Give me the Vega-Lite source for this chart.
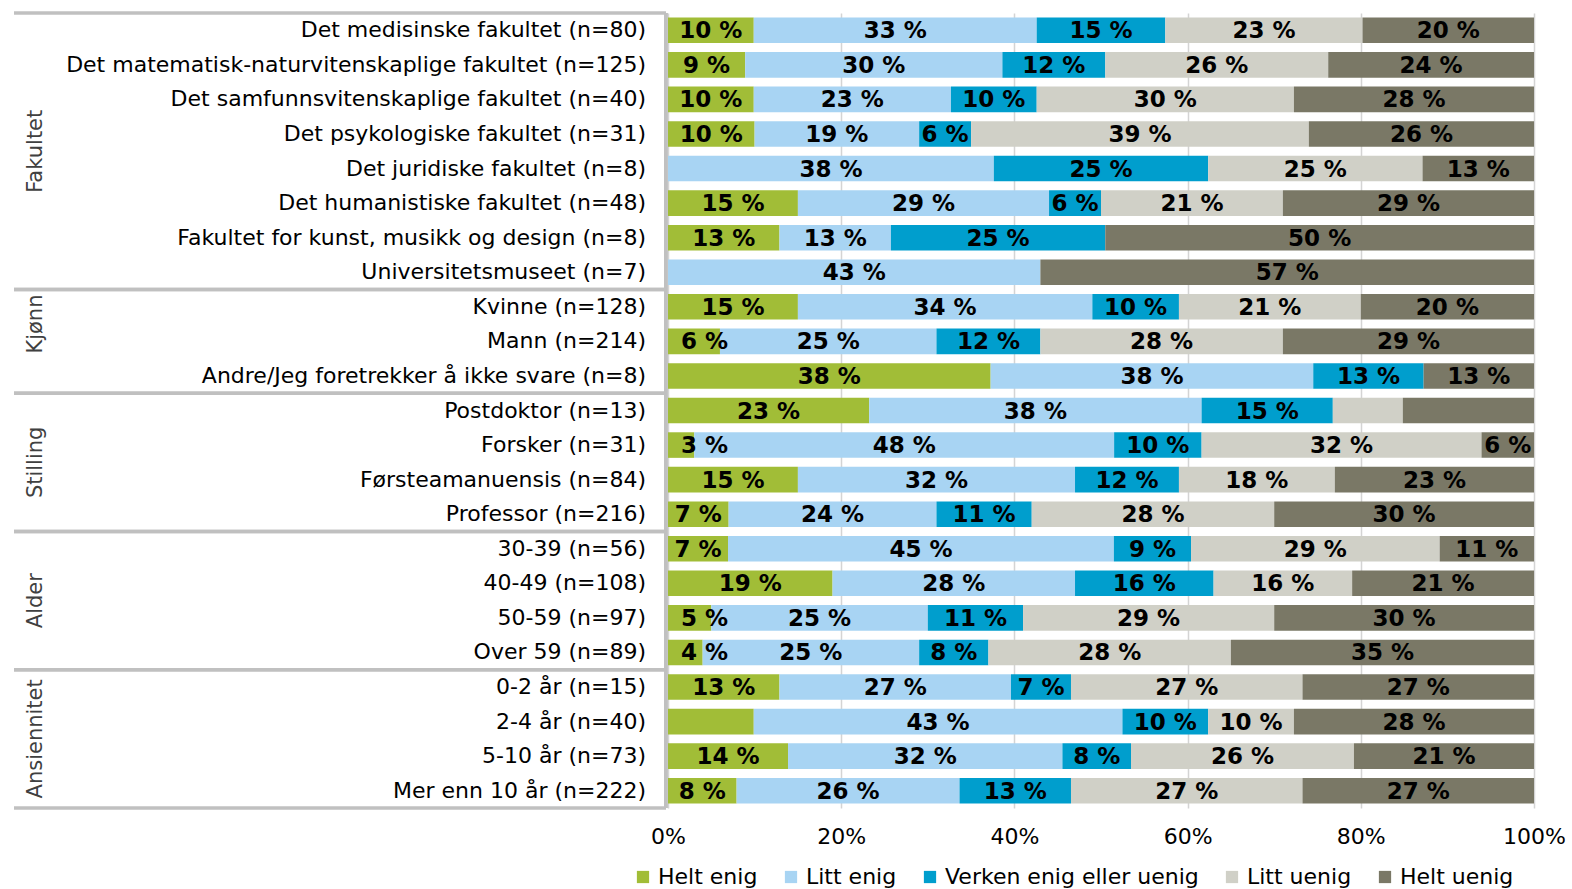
{
  "$schema": "https://vega.github.io/schema/vega-lite/v6.json",
  "background": "white",
  "padding": {"left": 12, "top": 11, "right": 5, "bottom": 5},
  "spacing": 2,
  "bounds": "flush",
  "config": {
    "view": {"stroke": null},
    "font": "DejaVu Sans",
    "text": {"font": "DejaVu Sans"}
  },
  "datasets": {
    "rows": [
      {"r": "Det medisinske fakultet (n=80)", "g": "Fakultet"},
      {"r": "Det matematisk-naturvitenskaplige fakultet (n=125)", "g": "Fakultet"},
      {"r": "Det samfunnsvitenskaplige fakultet (n=40)", "g": "Fakultet"},
      {"r": "Det psykologiske fakultet (n=31)", "g": "Fakultet"},
      {"r": "Det juridiske fakultet (n=8)", "g": "Fakultet"},
      {"r": "Det humanistiske fakultet (n=48)", "g": "Fakultet"},
      {"r": "Fakultet for kunst, musikk og design (n=8)", "g": "Fakultet"},
      {"r": "Universitetsmuseet (n=7)", "g": "Fakultet"},
      {"r": "Kvinne (n=128)", "g": "Kjønn"},
      {"r": "Mann (n=214)", "g": "Kjønn"},
      {"r": "Andre/Jeg foretrekker å ikke svare (n=8)", "g": "Kjønn"},
      {"r": "Postdoktor (n=13)", "g": "Stilling"},
      {"r": "Forsker (n=31)", "g": "Stilling"},
      {"r": "Førsteamanuensis (n=84)", "g": "Stilling"},
      {"r": "Professor (n=216)", "g": "Stilling"},
      {"r": "30-39 (n=56)", "g": "Alder"},
      {"r": "40-49 (n=108)", "g": "Alder"},
      {"r": "50-59 (n=97)", "g": "Alder"},
      {"r": "Over 59 (n=89)", "g": "Alder"},
      {"r": "0-2 år (n=15)", "g": "Ansiennitet"},
      {"r": "2-4 år (n=40)", "g": "Ansiennitet"},
      {"r": "5-10 år (n=73)", "g": "Ansiennitet"},
      {"r": "Mer enn 10 år (n=222)", "g": "Ansiennitet"}
    ],
    "groups": [
      {"g": "Fakultet", "first": "Det medisinske fakultet (n=80)", "anchor": "Det juridiske fakultet (n=8)", "last": "Universitetsmuseet (n=7)"},
      {"g": "Kjønn", "first": "Kvinne (n=128)", "anchor": "Mann (n=214)", "last": "Andre/Jeg foretrekker å ikke svare (n=8)"},
      {"g": "Stilling", "first": "Postdoktor (n=13)", "anchor": "Førsteamanuensis (n=84)", "last": "Professor (n=216)"},
      {"g": "Alder", "first": "30-39 (n=56)", "anchor": "50-59 (n=97)", "last": "Over 59 (n=89)"},
      {"g": "Ansiennitet", "first": "0-2 år (n=15)", "anchor": "5-10 år (n=73)", "last": "Mer enn 10 år (n=222)"}
    ],
    "vals": [
      {"r": "Det medisinske fakultet (n=80)", "c": "Helt enig", "k": 1, "v": 10, "t": "10 %"},
      {"r": "Det medisinske fakultet (n=80)", "c": "Litt enig", "k": 2, "v": 33, "t": "33 %"},
      {"r": "Det medisinske fakultet (n=80)", "c": "Verken enig eller uenig", "k": 3, "v": 15, "t": "15 %"},
      {"r": "Det medisinske fakultet (n=80)", "c": "Litt uenig", "k": 4, "v": 23, "t": "23 %"},
      {"r": "Det medisinske fakultet (n=80)", "c": "Helt uenig", "k": 5, "v": 20, "t": "20 %"},
      {"r": "Det matematisk-naturvitenskaplige fakultet (n=125)", "c": "Helt enig", "k": 1, "v": 9, "t": "9 %"},
      {"r": "Det matematisk-naturvitenskaplige fakultet (n=125)", "c": "Litt enig", "k": 2, "v": 30, "t": "30 %"},
      {"r": "Det matematisk-naturvitenskaplige fakultet (n=125)", "c": "Verken enig eller uenig", "k": 3, "v": 12, "t": "12 %"},
      {"r": "Det matematisk-naturvitenskaplige fakultet (n=125)", "c": "Litt uenig", "k": 4, "v": 26, "t": "26 %"},
      {"r": "Det matematisk-naturvitenskaplige fakultet (n=125)", "c": "Helt uenig", "k": 5, "v": 24, "t": "24 %"},
      {"r": "Det samfunnsvitenskaplige fakultet (n=40)", "c": "Helt enig", "k": 1, "v": 10, "t": "10 %"},
      {"r": "Det samfunnsvitenskaplige fakultet (n=40)", "c": "Litt enig", "k": 2, "v": 23, "t": "23 %"},
      {"r": "Det samfunnsvitenskaplige fakultet (n=40)", "c": "Verken enig eller uenig", "k": 3, "v": 10, "t": "10 %"},
      {"r": "Det samfunnsvitenskaplige fakultet (n=40)", "c": "Litt uenig", "k": 4, "v": 30, "t": "30 %"},
      {"r": "Det samfunnsvitenskaplige fakultet (n=40)", "c": "Helt uenig", "k": 5, "v": 28, "t": "28 %"},
      {"r": "Det psykologiske fakultet (n=31)", "c": "Helt enig", "k": 1, "v": 10, "t": "10 %"},
      {"r": "Det psykologiske fakultet (n=31)", "c": "Litt enig", "k": 2, "v": 19, "t": "19 %"},
      {"r": "Det psykologiske fakultet (n=31)", "c": "Verken enig eller uenig", "k": 3, "v": 6, "t": "6 %"},
      {"r": "Det psykologiske fakultet (n=31)", "c": "Litt uenig", "k": 4, "v": 39, "t": "39 %"},
      {"r": "Det psykologiske fakultet (n=31)", "c": "Helt uenig", "k": 5, "v": 26, "t": "26 %"},
      {"r": "Det juridiske fakultet (n=8)", "c": "Litt enig", "k": 2, "v": 38, "t": "38 %"},
      {"r": "Det juridiske fakultet (n=8)", "c": "Verken enig eller uenig", "k": 3, "v": 25, "t": "25 %"},
      {"r": "Det juridiske fakultet (n=8)", "c": "Litt uenig", "k": 4, "v": 25, "t": "25 %"},
      {"r": "Det juridiske fakultet (n=8)", "c": "Helt uenig", "k": 5, "v": 13, "t": "13 %"},
      {"r": "Det humanistiske fakultet (n=48)", "c": "Helt enig", "k": 1, "v": 15, "t": "15 %"},
      {"r": "Det humanistiske fakultet (n=48)", "c": "Litt enig", "k": 2, "v": 29, "t": "29 %"},
      {"r": "Det humanistiske fakultet (n=48)", "c": "Verken enig eller uenig", "k": 3, "v": 6, "t": "6 %"},
      {"r": "Det humanistiske fakultet (n=48)", "c": "Litt uenig", "k": 4, "v": 21, "t": "21 %"},
      {"r": "Det humanistiske fakultet (n=48)", "c": "Helt uenig", "k": 5, "v": 29, "t": "29 %"},
      {"r": "Fakultet for kunst, musikk og design (n=8)", "c": "Helt enig", "k": 1, "v": 13, "t": "13 %"},
      {"r": "Fakultet for kunst, musikk og design (n=8)", "c": "Litt enig", "k": 2, "v": 13, "t": "13 %"},
      {"r": "Fakultet for kunst, musikk og design (n=8)", "c": "Verken enig eller uenig", "k": 3, "v": 25, "t": "25 %"},
      {"r": "Fakultet for kunst, musikk og design (n=8)", "c": "Helt uenig", "k": 5, "v": 50, "t": "50 %"},
      {"r": "Universitetsmuseet (n=7)", "c": "Litt enig", "k": 2, "v": 43, "t": "43 %"},
      {"r": "Universitetsmuseet (n=7)", "c": "Helt uenig", "k": 5, "v": 57, "t": "57 %"},
      {"r": "Kvinne (n=128)", "c": "Helt enig", "k": 1, "v": 15, "t": "15 %"},
      {"r": "Kvinne (n=128)", "c": "Litt enig", "k": 2, "v": 34, "t": "34 %"},
      {"r": "Kvinne (n=128)", "c": "Verken enig eller uenig", "k": 3, "v": 10, "t": "10 %"},
      {"r": "Kvinne (n=128)", "c": "Litt uenig", "k": 4, "v": 21, "t": "21 %"},
      {"r": "Kvinne (n=128)", "c": "Helt uenig", "k": 5, "v": 20, "t": "20 %"},
      {"r": "Mann (n=214)", "c": "Helt enig", "k": 1, "v": 6, "t": "6 %"},
      {"r": "Mann (n=214)", "c": "Litt enig", "k": 2, "v": 25, "t": "25 %"},
      {"r": "Mann (n=214)", "c": "Verken enig eller uenig", "k": 3, "v": 12, "t": "12 %"},
      {"r": "Mann (n=214)", "c": "Litt uenig", "k": 4, "v": 28, "t": "28 %"},
      {"r": "Mann (n=214)", "c": "Helt uenig", "k": 5, "v": 29, "t": "29 %"},
      {"r": "Andre/Jeg foretrekker å ikke svare (n=8)", "c": "Helt enig", "k": 1, "v": 38, "t": "38 %"},
      {"r": "Andre/Jeg foretrekker å ikke svare (n=8)", "c": "Litt enig", "k": 2, "v": 38, "t": "38 %"},
      {"r": "Andre/Jeg foretrekker å ikke svare (n=8)", "c": "Verken enig eller uenig", "k": 3, "v": 13, "t": "13 %"},
      {"r": "Andre/Jeg foretrekker å ikke svare (n=8)", "c": "Helt uenig", "k": 5, "v": 13, "t": "13 %"},
      {"r": "Postdoktor (n=13)", "c": "Helt enig", "k": 1, "v": 23, "t": "23 %"},
      {"r": "Postdoktor (n=13)", "c": "Litt enig", "k": 2, "v": 38, "t": "38 %"},
      {"r": "Postdoktor (n=13)", "c": "Verken enig eller uenig", "k": 3, "v": 15, "t": "15 %"},
      {"r": "Postdoktor (n=13)", "c": "Litt uenig", "k": 4, "v": 8, "t": ""},
      {"r": "Postdoktor (n=13)", "c": "Helt uenig", "k": 5, "v": 15, "t": ""},
      {"r": "Forsker (n=31)", "c": "Helt enig", "k": 1, "v": 3, "t": "3 %"},
      {"r": "Forsker (n=31)", "c": "Litt enig", "k": 2, "v": 48, "t": "48 %"},
      {"r": "Forsker (n=31)", "c": "Verken enig eller uenig", "k": 3, "v": 10, "t": "10 %"},
      {"r": "Forsker (n=31)", "c": "Litt uenig", "k": 4, "v": 32, "t": "32 %"},
      {"r": "Forsker (n=31)", "c": "Helt uenig", "k": 5, "v": 6, "t": "6 %"},
      {"r": "Førsteamanuensis (n=84)", "c": "Helt enig", "k": 1, "v": 15, "t": "15 %"},
      {"r": "Førsteamanuensis (n=84)", "c": "Litt enig", "k": 2, "v": 32, "t": "32 %"},
      {"r": "Førsteamanuensis (n=84)", "c": "Verken enig eller uenig", "k": 3, "v": 12, "t": "12 %"},
      {"r": "Førsteamanuensis (n=84)", "c": "Litt uenig", "k": 4, "v": 18, "t": "18 %"},
      {"r": "Førsteamanuensis (n=84)", "c": "Helt uenig", "k": 5, "v": 23, "t": "23 %"},
      {"r": "Professor (n=216)", "c": "Helt enig", "k": 1, "v": 7, "t": "7 %"},
      {"r": "Professor (n=216)", "c": "Litt enig", "k": 2, "v": 24, "t": "24 %"},
      {"r": "Professor (n=216)", "c": "Verken enig eller uenig", "k": 3, "v": 11, "t": "11 %"},
      {"r": "Professor (n=216)", "c": "Litt uenig", "k": 4, "v": 28, "t": "28 %"},
      {"r": "Professor (n=216)", "c": "Helt uenig", "k": 5, "v": 30, "t": "30 %"},
      {"r": "30-39 (n=56)", "c": "Helt enig", "k": 1, "v": 7, "t": "7 %"},
      {"r": "30-39 (n=56)", "c": "Litt enig", "k": 2, "v": 45, "t": "45 %"},
      {"r": "30-39 (n=56)", "c": "Verken enig eller uenig", "k": 3, "v": 9, "t": "9 %"},
      {"r": "30-39 (n=56)", "c": "Litt uenig", "k": 4, "v": 29, "t": "29 %"},
      {"r": "30-39 (n=56)", "c": "Helt uenig", "k": 5, "v": 11, "t": "11 %"},
      {"r": "40-49 (n=108)", "c": "Helt enig", "k": 1, "v": 19, "t": "19 %"},
      {"r": "40-49 (n=108)", "c": "Litt enig", "k": 2, "v": 28, "t": "28 %"},
      {"r": "40-49 (n=108)", "c": "Verken enig eller uenig", "k": 3, "v": 16, "t": "16 %"},
      {"r": "40-49 (n=108)", "c": "Litt uenig", "k": 4, "v": 16, "t": "16 %"},
      {"r": "40-49 (n=108)", "c": "Helt uenig", "k": 5, "v": 21, "t": "21 %"},
      {"r": "50-59 (n=97)", "c": "Helt enig", "k": 1, "v": 5, "t": "5 %"},
      {"r": "50-59 (n=97)", "c": "Litt enig", "k": 2, "v": 25, "t": "25 %"},
      {"r": "50-59 (n=97)", "c": "Verken enig eller uenig", "k": 3, "v": 11, "t": "11 %"},
      {"r": "50-59 (n=97)", "c": "Litt uenig", "k": 4, "v": 29, "t": "29 %"},
      {"r": "50-59 (n=97)", "c": "Helt uenig", "k": 5, "v": 30, "t": "30 %"},
      {"r": "Over 59 (n=89)", "c": "Helt enig", "k": 1, "v": 4, "t": "4 %"},
      {"r": "Over 59 (n=89)", "c": "Litt enig", "k": 2, "v": 25, "t": "25 %"},
      {"r": "Over 59 (n=89)", "c": "Verken enig eller uenig", "k": 3, "v": 8, "t": "8 %"},
      {"r": "Over 59 (n=89)", "c": "Litt uenig", "k": 4, "v": 28, "t": "28 %"},
      {"r": "Over 59 (n=89)", "c": "Helt uenig", "k": 5, "v": 35, "t": "35 %"},
      {"r": "0-2 år (n=15)", "c": "Helt enig", "k": 1, "v": 13, "t": "13 %"},
      {"r": "0-2 år (n=15)", "c": "Litt enig", "k": 2, "v": 27, "t": "27 %"},
      {"r": "0-2 år (n=15)", "c": "Verken enig eller uenig", "k": 3, "v": 7, "t": "7 %"},
      {"r": "0-2 år (n=15)", "c": "Litt uenig", "k": 4, "v": 27, "t": "27 %"},
      {"r": "0-2 år (n=15)", "c": "Helt uenig", "k": 5, "v": 27, "t": "27 %"},
      {"r": "2-4 år (n=40)", "c": "Helt enig", "k": 1, "v": 10, "t": ""},
      {"r": "2-4 år (n=40)", "c": "Litt enig", "k": 2, "v": 43, "t": "43 %"},
      {"r": "2-4 år (n=40)", "c": "Verken enig eller uenig", "k": 3, "v": 10, "t": "10 %"},
      {"r": "2-4 år (n=40)", "c": "Litt uenig", "k": 4, "v": 10, "t": "10 %"},
      {"r": "2-4 år (n=40)", "c": "Helt uenig", "k": 5, "v": 28, "t": "28 %"},
      {"r": "5-10 år (n=73)", "c": "Helt enig", "k": 1, "v": 14, "t": "14 %"},
      {"r": "5-10 år (n=73)", "c": "Litt enig", "k": 2, "v": 32, "t": "32 %"},
      {"r": "5-10 år (n=73)", "c": "Verken enig eller uenig", "k": 3, "v": 8, "t": "8 %"},
      {"r": "5-10 år (n=73)", "c": "Litt uenig", "k": 4, "v": 26, "t": "26 %"},
      {"r": "5-10 år (n=73)", "c": "Helt uenig", "k": 5, "v": 21, "t": "21 %"},
      {"r": "Mer enn 10 år (n=222)", "c": "Helt enig", "k": 1, "v": 8, "t": "8 %"},
      {"r": "Mer enn 10 år (n=222)", "c": "Litt enig", "k": 2, "v": 26, "t": "26 %"},
      {"r": "Mer enn 10 år (n=222)", "c": "Verken enig eller uenig", "k": 3, "v": 13, "t": "13 %"},
      {"r": "Mer enn 10 år (n=222)", "c": "Litt uenig", "k": 4, "v": 27, "t": "27 %"},
      {"r": "Mer enn 10 år (n=222)", "c": "Helt uenig", "k": 5, "v": 27, "t": "27 %"}
    ]
  },
  "hconcat": [
    {
      "width": 652,
      "height": 795,
      "layer": [
        {
          "data": {"name": "groups"},
          "mark": {"type": "rule", "color": "#c0c0c0", "strokeWidth": 3.5},
          "encoding": {
            "y": {"field": "first", "type": "nominal", "bandPosition": 0,
                  "scale": {"type": "band", "padding": 0, "domain": {"data": "rows", "field": "r"}}, "axis": null}
          }
        },
        {
          "data": {"name": "groups"},
          "mark": {"type": "rule", "color": "#c0c0c0", "strokeWidth": 3.5},
          "encoding": {
            "y": {"field": "last", "type": "nominal", "bandPosition": 1}
          }
        },
        {
          "data": {"name": "rows"},
          "mark": {"type": "text", "align": "right", "baseline": "middle", "dx": -20, "fontSize": 22, "color": "#000000"},
          "encoding": {
            "y": {"field": "r", "type": "nominal"},
            "x": {"datum": 1, "type": "quantitative", "scale": {"domain": [0, 1]}, "axis": null},
            "text": {"field": "r"}
          }
        },
        {
          "data": {"name": "groups"},
          "mark": {"type": "text", "align": "center", "baseline": "middle", "angle": 270, "fontSize": 21, "color": "#404040"},
          "encoding": {
            "y": {"field": "anchor", "type": "nominal", "bandPosition": 0},
            "x": {"datum": 0.034, "type": "quantitative"},
            "text": {"field": "g"}
          }
        },
        {
          "data": {"name": "rows"},
          "mark": {"type": "rule", "color": "#c0c0c0", "strokeWidth": 3},
          "encoding": {
            "x": {"datum": 1, "type": "quantitative"}
          }
        }
      ]
    },
    {
      "width": 866,
      "height": 795,
      "data": {"name": "vals"},
      "layer": [
        {
          "mark": {"type": "bar"},
          "encoding": {
            "y": {"field": "r", "type": "nominal", "axis": null,
                  "scale": {"paddingInner": 0.26, "paddingOuter": 0.13, "domain": {"data": "rows", "field": "r"}}},
            "x": {"field": "v", "type": "quantitative", "stack": "normalize",
                  "scale": {"domain": [0, 1]},
                  "axis": {"title": null, "format": ".0%", "values": [0, 0.2, 0.4, 0.6, 0.8, 1],
                           "grid": true, "gridColor": "#d4d4d4", "gridWidth": 1.5, "domain": false, "ticks": false,
                           "labelFlush": false,
                           "labelFontSize": 22, "labelColor": "#000000", "labelPadding": 18, "labelFont": "DejaVu Sans"}},
            "order": {"field": "k", "type": "quantitative"},
            "color": {"field": "c", "type": "nominal",
                      "scale": {"domain": ["Helt enig", "Litt enig", "Verken enig eller uenig", "Litt uenig", "Helt uenig"],
                                "range": ["#a1bd37", "#a8d4f3", "#009ecd", "#d0d0c7", "#7a7866"]},
                      "legend": {"title": null, "orient": "none", "direction": "horizontal", "legendX": 618, "legendY": 853,
                                 "symbolType": "square", "symbolSize": 150, "symbolStrokeWidth": 0,
                                 "labelFontSize": 22, "labelFont": "DejaVu Sans", "labelColor": "#000000", "labelLimit": 0,
                                 "columnPadding": 22, "labelOffset": 4}}
          }
        },
        {
          "mark": {"type": "text", "fontSize": 23, "fontWeight": "bold", "color": "#000000", "baseline": "middle", "align": "center", "dy": 1},
          "encoding": {
            "y": {"field": "r", "type": "nominal"},
            "x": {"field": "v", "type": "quantitative", "stack": "normalize", "bandPosition": 0.5},
            "order": {"field": "k", "type": "quantitative"},
            "detail": {"field": "c"},
            "text": {"condition": {"test": "datum.k == 1 && datum.v < 7", "value": ""}, "field": "t"}
          }
        },
        {
          "transform": [{"filter": "datum.k == 1 && datum.v < 7"}],
          "mark": {"type": "text", "fontSize": 23, "fontWeight": "bold", "color": "#000000", "baseline": "middle", "align": "left", "dx": 13, "dy": 1},
          "encoding": {
            "y": {"field": "r", "type": "nominal"},
            "x": {"datum": 0, "type": "quantitative"},
            "text": {"field": "t"}
          }
        }
      ]
    }
  ]
}
